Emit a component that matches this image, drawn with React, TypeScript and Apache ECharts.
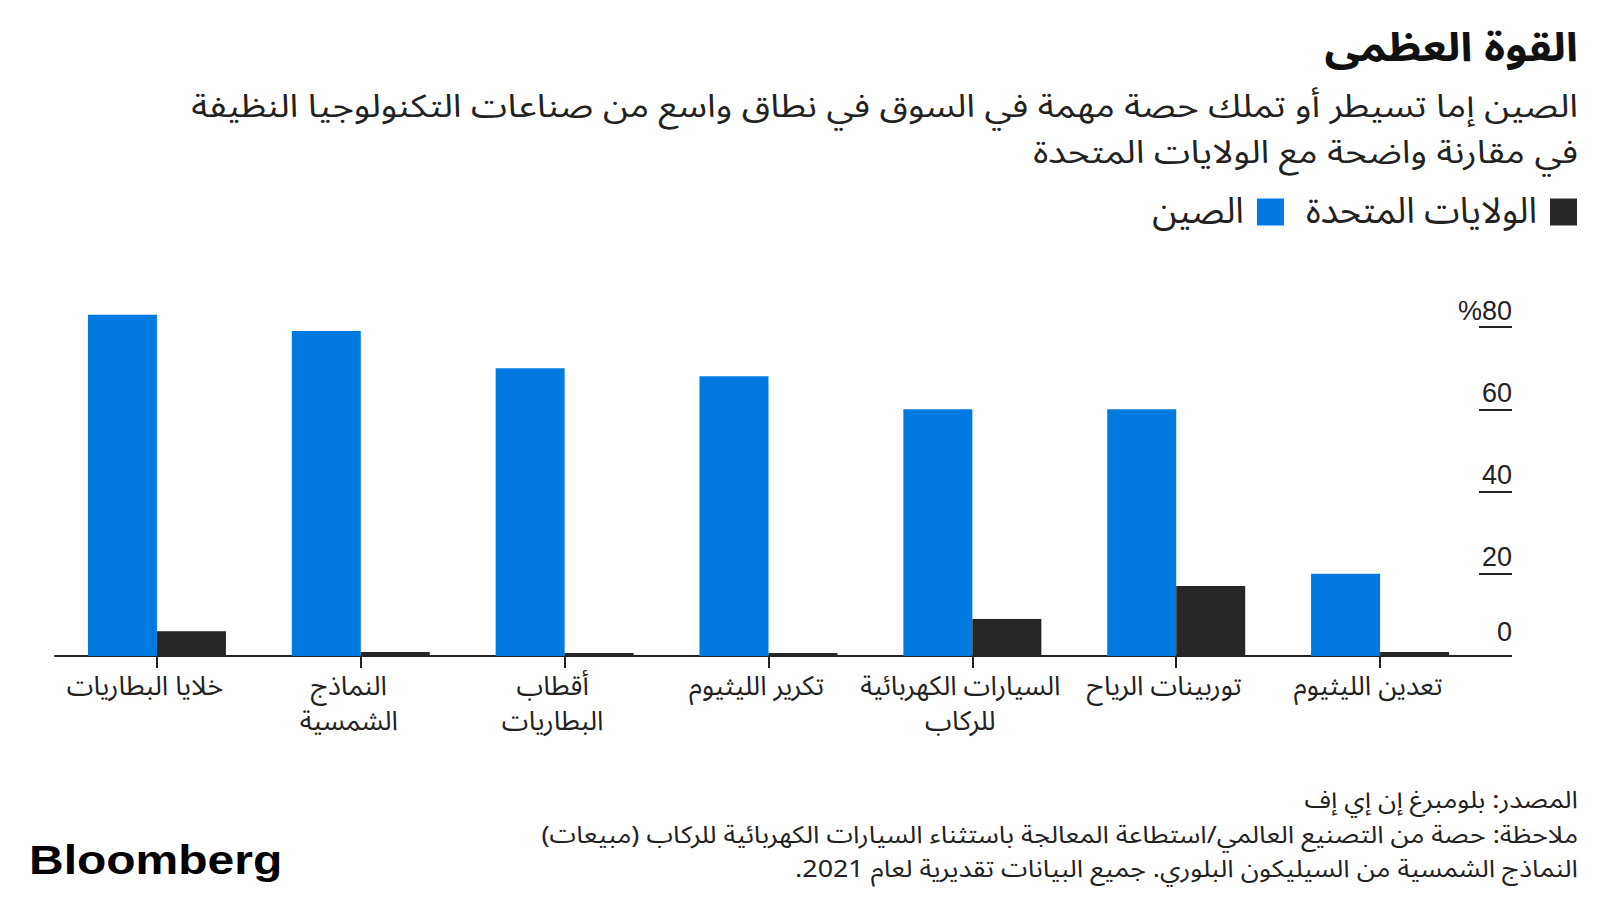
import React, { useEffect, useRef } from "react";
import * as echarts from "echarts";

const categories = [
  "خلايا البطاريات",
  "النماذج\nالشمسية",
  "أقطاب\nالبطاريات",
  "تكرير الليثيوم",
  "السيارات الكهربائية\nللركاب",
  "توربينات الرياح",
  "تعدين الليثيوم",
];
const chinaShare = [83, 79, 70, 68, 60, 60, 20];
const usShare = [6, 1, 0.7, 0.7, 9, 17, 1];
const seriesNames = ["الصين", "الولايات المتحدة"];
const yTickValues = [0, 20, 40, 60, 80];

const RLM = "\u200F";
const titleText = "القوة العظمى";
const subtitleLines = [
  "الصين إما تسيطر أو تملك حصة مهمة في السوق في نطاق واسع من صناعات التكنولوجيا النظيفة",
  "في مقارنة واضحة مع الولايات المتحدة",
];
const footerLines = [
  "المصدر: بلومبرغ إن إي إف",
  "ملاحظة: حصة من التصنيع العالمي/استطاعة المعالجة باستثناء السيارات الكهربائية للركاب (مبيعات)",
  "النماذج الشمسية من السيليكون البلوري. جميع البيانات تقديرية لعام 2021.",
];

const BLUE = "#0079e0";
const DARK = "#262626";
const AR_FONT = "'Noto Sans Arabic', 'DejaVu Sans', 'Noto Sans', sans-serif";
const NUM_FONT = "'Liberation Sans', Arial, sans-serif";

const RIGHT_X = 1578;
const subtitleY = [107, 153];
const footerY = [800, 835, 869];

export default function App() {
  const ref = useRef<HTMLDivElement>(null);

  useEffect(() => {
    document.body.style.margin = "0";
    const chart = echarts.init(ref.current!, undefined, { renderer: "svg" });

    const graphics: any[] = [
      {
        type: "text",
        x: RIGHT_X,
        y: 48,
        scaleX: 1.12,
        style: {
          text: titleText,
          align: "right",
          verticalAlign: "middle",
          fontFamily: AR_FONT,
          fontSize: 40,
          fontWeight: "bold",
          fill: "#111",
        },
      },
      ...subtitleLines.map((t, i) => ({
        type: "text",
        x: RIGHT_X,
        y: subtitleY[i],
        scaleX: 1.15,
        style: {
          text: t,
          align: "right",
          verticalAlign: "middle",
          fontFamily: AR_FONT,
          fontSize: 32,
          fill: "#222",
        },
      })),
      ...footerLines.map((t, i) => ({
        type: "text",
        x: RIGHT_X,
        y: footerY[i],
        scaleX: 1.12,
        style: {
          text: RLM + t + RLM,
          align: "right",
          verticalAlign: "middle",
          fontFamily: AR_FONT,
          fontSize: 24,
          fill: "#222",
        },
      })),
      {
        type: "text",
        x: 29,
        y: 860,
        scaleX: 1.2,
        style: {
          text: "Bloomberg",
          align: "left",
          verticalAlign: "middle",
          fontFamily: NUM_FONT,
          fontSize: 40,
          fontWeight: "bold",
          fill: "#000",
        },
      },
    ];

    chart.setOption({
      animation: false,
      backgroundColor: "#ffffff",
      grid: { left: 55, right: 118, top: 327, bottom: 244, containLabel: false },
      legend: {
        data: seriesNames,
        right: 23,
        top: 194,
        padding: 0,
        align: "right",
        itemWidth: 27,
        itemHeight: 27,
        itemGap: 22,
        icon: "rect",
        textStyle: { fontFamily: AR_FONT, fontSize: 36, color: "#222", padding: [0, 8, 0, 0] },
      },
      xAxis: {
        type: "category",
        data: categories,
        axisLine: { show: true, lineStyle: { color: "#222", width: 2 } },
        axisTick: { show: true, alignWithLabel: true, length: 12, lineStyle: { color: "#222", width: 2 } },
        axisLabel: {
          interval: 0,
          margin: 13,
          fontFamily: AR_FONT,
          fontSize: 27,
          lineHeight: 35,
          padding: [0, 24, 0, 0],
          color: "#222",
        },
      },
      yAxis: {
        type: "value",
        position: "right",
        offset: 30,
        min: 0,
        max: 80,
        interval: 20,
        axisLine: { show: false },
        splitLine: { show: false },
        axisTick: { show: true, inside: true, length: 33, lineStyle: { color: "#222", width: 2 } },
        axisLabel: {
          inside: true,
          margin: 0,
          verticalAlign: "bottom",
          padding: [0, 0, 3, 0],
          fontFamily: NUM_FONT,
          fontSize: 27,
          color: "#222",
          formatter: (v: number) => {
            if (!yTickValues.includes(v)) return "";
            if (v === 80) return "%80";
            if (v === 0) return "{z|0}";
            return String(v);
          },
          rich: {
            z: { fontFamily: NUM_FONT, fontSize: 27, color: "#222", padding: [0, 0, 8, 0] },
          },
        },
      },
      series: [
        {
          name: seriesNames[0],
          type: "bar",
          data: chinaShare,
          barWidth: 69,
          barGap: "0%",
          clip: false,
          itemStyle: { color: BLUE },
        },
        {
          name: seriesNames[1],
          type: "bar",
          data: usShare,
          barWidth: 69,
          barGap: "0%",
          clip: false,
          itemStyle: { color: DARK },
        },
      ],
      graphic: graphics,
    });
    return () => chart.dispose();
  }, []);

  return <div ref={ref} style={{ width: 1600, height: 900, position: "absolute", left: 0, top: 0 }} />;
}
